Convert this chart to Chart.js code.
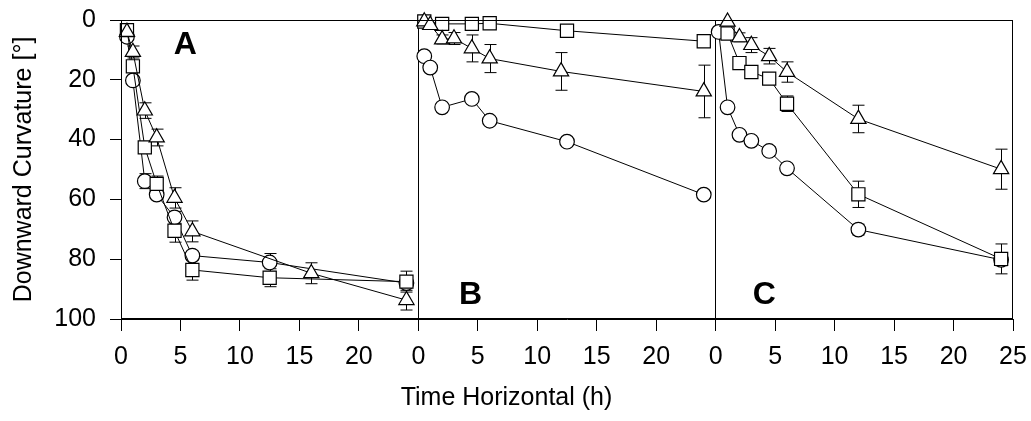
<!DOCTYPE html>
<html>
<head>
<meta charset="utf-8">
<script src="https://cdn.jsdelivr.net/npm/chart.js@4.4.0/dist/chart.umd.min.js"></script>
<style>
  html, body { margin: 0; padding: 0; background: #fff; }
</style>
</head>
<body>
<canvas id="curv" width="1031" height="421"></canvas>
<script>
// each panel runs 0..25 h, placed side by side on one x scale
const panelNames = ['A', 'B', 'C'];
const panelStart = [0, 25, 50];

// panel A
const aCircT = [0.5, 1, 2, 3, 4.5, 6, 12.5, 24];
const aCircY = [5.6, 20.2, 53.9, 58.4, 66, 78.8, 81.1, 88];
const aCircE = [0, 0, 2.5, 1.5, 2, 1.5, 3, 0];
const aSqT = [0.5, 1, 2, 3, 4.5, 6, 12.5, 24];
const aSqY = [3.4, 15.5, 42.6, 54.8, 70.5, 83.6, 86.2, 87.5];
const aSqE = [0, 1.5, 1.5, 2.6, 3.8, 3.4, 3, 3.5];
const aTriT = [0.5, 1, 2, 3, 4.5, 6, 16, 24];
const aTriY = [4, 10.7, 30.3, 39.3, 59.5, 70.7, 84.7, 93.7];
const aTriE = [1.5, 2, 2.6, 2.8, 3.4, 3.5, 3.5, 3.3];

// panel B
const bCircT = [0.5, 1, 2, 4.5, 6, 12.5, 24];
const bCircY = [12.1, 15.9, 29.2, 26.4, 33.7, 40.7, 58.4];
const bCircE = [0, 1, 0, 0, 0, 0, 0];
const bSqT = [0.5, 2, 4.5, 6, 12.5, 24];
const bSqY = [0.5, 1.3, 1.3, 1.1, 3.6, 7.1];
const bSqE = [0, 0, 0, 1.5, 0, 0];
const bTriT = [0.5, 1, 2, 3, 4.5, 6, 12, 24];
const bTriY = [0.5, 1.7, 6.5, 6.2, 9.5, 12.9, 17.2, 23.9];
const bTriE = [0, 0, 1.5, 2, 4.5, 4.7, 6.3, 8.8];

// panel C
const cCircT = [0.25, 1, 2, 3, 4.5, 6, 12, 24];
const cCircY = [4, 29.2, 38.4, 40.4, 43.8, 49.6, 70.1, 80.2];
const cCircE = [0, 0, 1, 0, 1.5, 0, 1.8, 2];
const cSqT = [1, 2, 3, 4.5, 6, 12, 24];
const cSqY = [4.5, 14.4, 17.4, 19.6, 28, 58.3, 79.9];
const cSqE = [0, 0, 0, 2, 2.6, 4.4, 5];
const cTriT = [1, 2, 3, 4.5, 6, 12, 24];
const cTriY = [0.6, 5.8, 8.4, 12.1, 17.4, 33.1, 49.9];
const cTriE = [0, 1.5, 2.5, 2.6, 3.4, 4.6, 6.7];

const yTicks = [0, 20, 40, 60, 80, 100];
const FONT = "'Liberation Sans', Arial, sans-serif";

const markers = {
  circle:   { pointStyle: 'circle',   pointRadius: 7.3 },
  rect:     { pointStyle: 'rect',     pointRadius: 9.3 },
  triangle: { pointStyle: 'triangle', pointRadius: 8.8 }
};

function serie(panel, shape, ts, ys, errs) {
  const off = panelStart[panel];
  return Object.assign({
    label: panelNames[panel] + ' ' + shape,
    data: ts.map((t, i) => ({ x: t + off, y: ys[i] })),
    err: errs,
    borderColor: '#000',
    borderWidth: 1,
    backgroundColor: '#fff',
    pointBackgroundColor: '#fff',
    pointBorderColor: '#000',
    pointBorderWidth: 1.2,
    pointHoverRadius: 0,
    showLine: true,
    tension: 0,
    clip: false
  }, markers[shape]);
}

// first dataset is drawn on top
const datasets = [
  serie(0, 'triangle', aTriT, aTriY, aTriE),
  serie(0, 'rect', aSqT, aSqY, aSqE),
  serie(0, 'circle', aCircT, aCircY, aCircE),
  serie(1, 'triangle', bTriT, bTriY, bTriE),
  serie(1, 'rect', bSqT, bSqY, bSqE),
  serie(1, 'circle', bCircT, bCircY, bCircE),
  serie(2, 'triangle', cTriT, cTriY, cTriE),
  serie(2, 'rect', cSqT, cSqY, cSqE),
  serie(2, 'circle', cCircT, cCircY, cCircE)
];

// error bars go under the markers
const errorBars = {
  id: 'errorBars',
  beforeDatasetsDraw(chart) {
    const { ctx, scales: { x, y } } = chart;
    ctx.save();
    ctx.strokeStyle = '#000';
    ctx.lineWidth = 1;
    chart.data.datasets.forEach(ds => {
      ds.data.forEach((p, i) => {
        const e = ds.err[i];
        if (!e) return;
        const px = Math.round(x.getPixelForValue(p.x)) + 0.5;
        const y1 = y.getPixelForValue(p.y - e), y2 = y.getPixelForValue(p.y + e);
        ctx.beginPath();
        ctx.moveTo(px, y1); ctx.lineTo(px, y2);
        ctx.moveTo(px - 6, y1); ctx.lineTo(px + 6, y1);
        ctx.moveTo(px - 6, y2); ctx.lineTo(px + 6, y2);
        ctx.stroke();
      });
    });
    ctx.restore();
  }
};

// frame + panel letters
const panelDeco = {
  id: 'panelDeco',
  afterDatasetsDraw(chart) {
    const { ctx, chartArea: a, scales: { x, y } } = chart;
    ctx.save();
    ctx.strokeStyle = '#000';
    ctx.lineWidth = 1;
    ctx.strokeRect(Math.round(a.left) + 0.5, Math.round(a.top) + 0.5,
                   Math.round(a.right - a.left) - 1, Math.round(a.bottom - a.top) - 1);
    ctx.fillStyle = '#000';
    ctx.font = 'bold 32px ' + FONT;
    ctx.textAlign = 'center';
    ctx.textBaseline = 'middle';
    ctx.fillText('A', x.getPixelForValue(5.4), y.getPixelForValue(8.5));
    ctx.fillText('B', x.getPixelForValue(29.4), y.getPixelForValue(92));
    ctx.fillText('C', x.getPixelForValue(54.1), y.getPixelForValue(92));
    ctx.restore();
  }
};

new Chart(document.getElementById('curv'), {
  type: 'scatter',
  data: { datasets },
  plugins: [errorBars, panelDeco],
  options: {
    responsive: false,
    animation: false,
    devicePixelRatio: 1,
    layout: { autoPadding: false, padding: { top: 20, right: 18, left: 0, bottom: 1 } },
    plugins: {
      legend: { display: false },
      tooltip: { enabled: false },
      title: {
        display: true, position: 'bottom', text: 'Time Horizontal (h)',
        color: '#000', font: { family: FONT, size: 25, weight: 'normal' },
        padding: { top: 0, bottom: 7 }
      }
    },
    scales: {
      x: {
        type: 'linear', min: 0, max: 75,
        afterFit: s => { s.height = 64; s.paddingLeft = 0; s.paddingRight = 0; },
        afterBuildTicks: s => { s.ticks = Array.from({ length: 16 }, (_, i) => ({ value: i * 5 })); },
        ticks: {
          color: '#000', font: { family: FONT, size: 25 }, padding: 11,
          autoSkip: false, maxRotation: 0,
          callback: v => v === 75 ? '25' : String(v % 25)
        },
        grid: {
          color: c => (c.tick && (c.tick.value === 25 || c.tick.value === 50)) ? '#000' : 'rgba(0,0,0,0)',
          tickColor: '#000', tickLength: 12, lineWidth: 1
        },
        border: { color: '#000', width: 1 }
      },
      y: {
        min: 0, max: 100, reverse: true,
        afterFit: s => { s.width = 121; s.paddingTop = 0; s.paddingBottom = 0; },
        afterBuildTicks: s => { s.ticks = yTicks.map(v => ({ value: v })); },
        ticks: { color: '#000', font: { family: FONT, size: 25 }, padding: 14 },
        grid: { drawOnChartArea: false, tickColor: '#000', tickLength: 11 },
        border: { color: '#000', width: 1 },
        title: {
          display: true, text: 'Downward Curvature [°]', color: '#000',
          font: { family: FONT, size: 25 }, padding: { top: 9, bottom: 0 }
        }
      }
    }
  }
});
</script>
</body>
</html>
